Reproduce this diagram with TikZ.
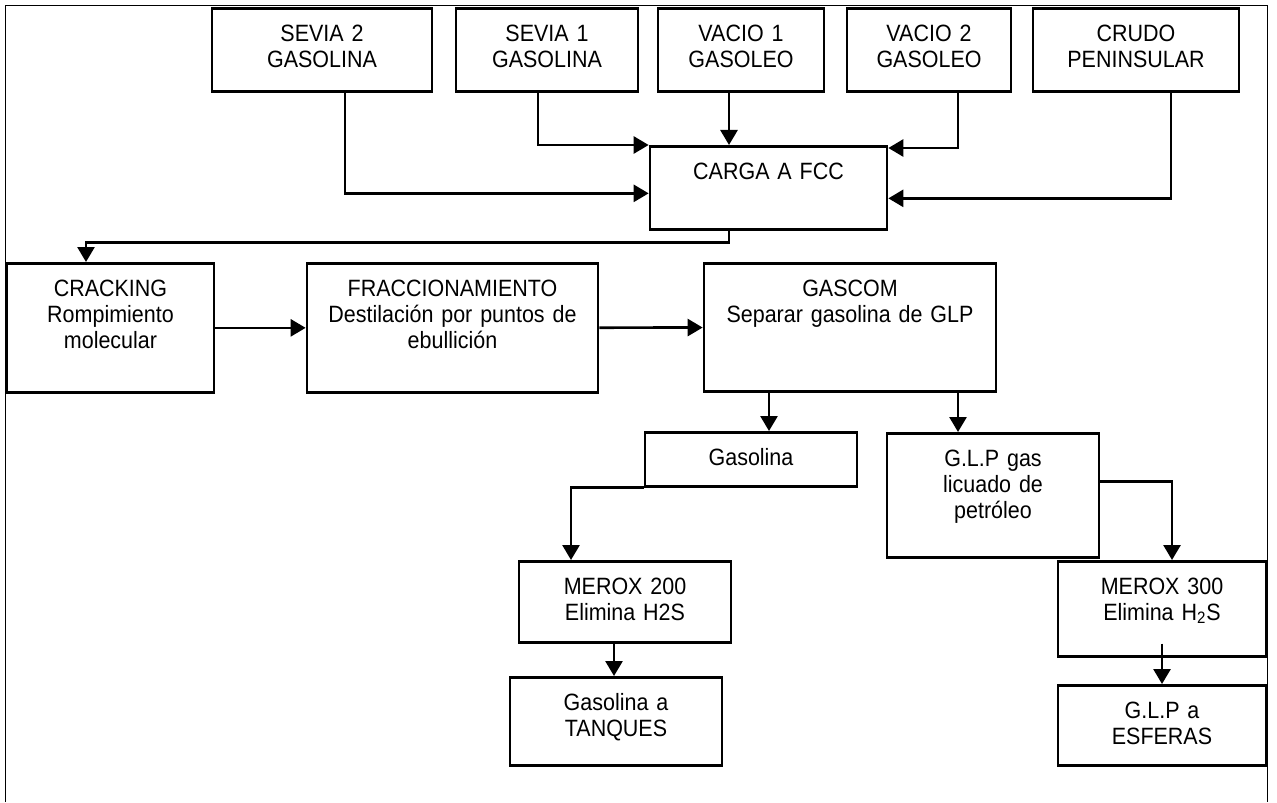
\documentclass[tikz,border=0pt]{standalone}
\usepackage{fontspec}
\setmainfont{Liberation Sans}[FakeStretch=0.91]
\usetikzlibrary{arrows.meta}

\begin{document}
\begin{tikzpicture}[
    x=0.5pt, y=-0.5pt,
    stage/.style={rectangle, draw=black, line width=1.35pt, anchor=north,
        align=center, inner xsep=0pt, inner ysep=8.5pt, text height=8pt,
        font=\fontsize{11.8pt}{13pt}\selectfont},
    arr/.style={-{Triangle[length=7.5pt, width=8.5pt]}, line width=1.35pt}
]
    \useasboundingbox (0,0) rectangle (1277,802);
    \draw[line width=0.5pt] (5,802) -- (5,6) -- (1267,6) -- (1267,802);

    % cargas
    \node[stage, text width=110pt, text depth=16.5pt] (sevia2) at (322,7) {SEVIA 2\\GASOLINA};
    \node[stage, text width=91pt, text depth=16.5pt] (sevia1) at (547,7) {SEVIA 1\\GASOLINA};
    \node[stage, text width=83pt, text depth=16.5pt] (vacio1) at (741,7) {VACIO 1\\GASOLEO};
    \node[stage, text width=82pt, text depth=16.5pt] (vacio2) at (929,7) {VACIO 2\\GASOLEO};
    \node[stage, text width=103pt, text depth=16.5pt] (crudo) at (1136,7) {CRUDO\\PENINSULAR};
    \node[stage, text width=118.5pt, text depth=16.5pt] (carga) at (768.5,145) {CARGA A FCC};

    % proceso
    \node[stage, text width=103.5pt, text depth=39.5pt] (crack) at (110.5,262) {CRACKING\\Rompimiento\\molecular};
    \node[stage, text width=145.5pt, text depth=39.5pt] (fracc) at (452.5,262) {FRACCIONAMIENTO\\Destilación por puntos de\\ebullición};
    \node[stage, text width=146pt, text depth=39pt] (gascom) at (850,262) {GASCOM\\Separar gasolina de GLP};

    % productos
    \node[stage, text width=106pt, text depth=2pt] (gasol) at (751,431) {Gasolina};
    \node[stage, text width=106pt, text depth=37pt] (glp) at (993,432) {G.L.P gas\\licuado de\\petróleo};
    \node[stage, text width=106pt, text depth=15.5pt] (merox2) at (625,560) {MEROX 200\\Elimina H2S};
    \node[stage, text width=106pt, text depth=19pt] (tanq) at (616,676) {Gasolina a\\TANQUES};
    \node[stage, text width=104pt, text depth=22.5pt] (merox3) at (1162,560) {MEROX 300\\Elimina H\textsubscript{2}S};
    \node[stage, text width=104pt, text depth=15pt] (esfer) at (1162,684) {G.L.P a\\ESFERAS};

    \draw[arr] ([xshift=11.5pt]sevia2.south) |- ([yshift=-2.75pt]carga.west);
    \draw[arr] ([xshift=-4.5pt]sevia1.south) |- (carga.north west);
    \draw[arr] ([xshift=-6pt]vacio1.south) -- ([xshift=-6pt]vacio1.south |- carga.north);
    \draw[arr] ([xshift=14.5pt]vacio2.south) |- ([yshift=-1.5pt]carga.north east);
    \draw[arr] ([xshift=17.5pt]crudo.south) |- ([yshift=-5.25pt]carga.east);
    \draw[arr] ([xshift=-19.75pt]carga.south) -- ++(0,-6pt) -| ([xshift=-12.25pt]crack.north);

    \draw[arr] (crack) -- (fracc);
    \draw[arr] (fracc) -- (gascom);
    \draw[arr] ([xshift=-40.5pt]gascom.south) -- ([xshift=-40.5pt]gascom.south |- gasol.north);
    \draw[arr] ([xshift=54pt]gascom.south) -- ([xshift=54pt]gascom.south |- glp.north);

    \draw[arr] (gasol.south west) -| ([xshift=-27pt]merox2.north);
    \draw[arr] ([xshift=-5.5pt]merox2.south) -- ([xshift=-5.5pt]merox2.south |- tanq.north);
    \draw[arr] ([yshift=7pt]glp.east) -| ([xshift=5pt]merox3.north);
    \draw[arr] ([yshift=7pt]merox3.south) -- (esfer.north);
\end{tikzpicture}
\end{document}
